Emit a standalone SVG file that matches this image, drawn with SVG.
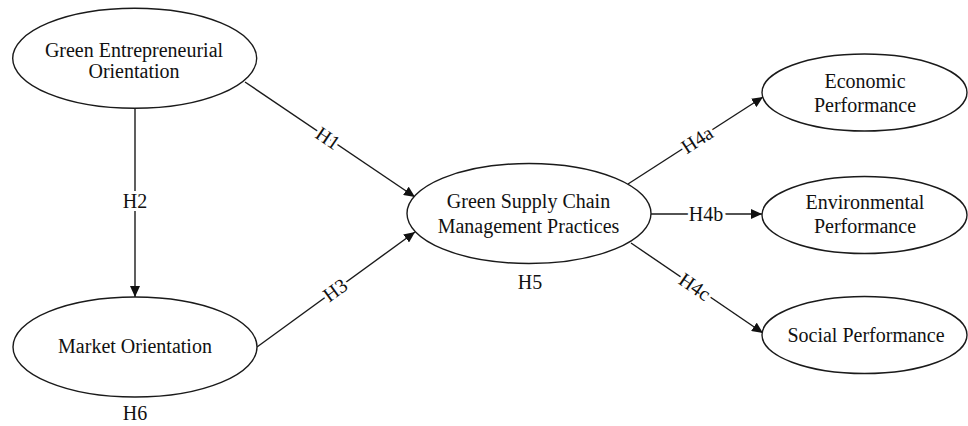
<svg xmlns="http://www.w3.org/2000/svg" width="968" height="426" viewBox="0 0 968 426">
<style>
.node ellipse{fill:#fff;stroke:#1a1a1a;stroke-width:1.4}
text{font-family:"Liberation Serif","Times New Roman",serif;font-size:20px;fill:#111;text-anchor:middle}
.conn line{stroke:#1a1a1a;stroke-width:1.4;marker-end:url(#arr)}
.lbl{paint-order:stroke;stroke:#fff;stroke-width:6px;stroke-linejoin:round;dominant-baseline:central}
</style>
<defs>
<marker id="arr" markerUnits="userSpaceOnUse" markerWidth="12" markerHeight="10" refX="11" refY="5" orient="auto">
<path d="M0,0 L11,5 L0,10 z" fill="#111"/>
</marker>
</defs>
<rect width="968" height="426" fill="#fff"/>
<g id="connectors" class="conn">
<line x1="135" y1="108" x2="135" y2="297"/>
<line x1="245" y1="82" x2="415" y2="197"/>
<line x1="257" y1="347" x2="415" y2="232"/>
<line x1="628" y1="184" x2="763" y2="97"/>
<line x1="651" y1="214" x2="762" y2="214"/>
<line x1="631" y1="243" x2="763" y2="333"/>
</g>
<g id="labels">
<text class="lbl" x="135" y="201">H2</text>
<text class="lbl" x="328" y="138" transform="rotate(34.1 328 138)">H1</text>
<text class="lbl" x="335" y="290" transform="rotate(-36 335 290)">H3</text>
<text class="lbl" x="697" y="139.5" transform="rotate(-32.8 697 139.5)">H4a</text>
<text class="lbl" x="706" y="213.5">H4b</text>
<text class="lbl" x="695" y="286.5" transform="rotate(34.3 695 286.5)">H4c</text>
<text x="530" y="289">H5</text>
<text x="135" y="420">H6</text>
</g>
<g id="geo" class="node">
<ellipse cx="134.7" cy="58.3" rx="122" ry="50"/>
<text x="134" y="56.5">Green Entrepreneurial</text>
<text x="134" y="77.5">Orientation</text>
</g>
<g id="mo" class="node">
<ellipse cx="135" cy="347" rx="122" ry="50"/>
<text x="135" y="353">Market Orientation</text>
</g>
<g id="gscm" class="node">
<ellipse cx="529" cy="213.5" rx="122" ry="50"/>
<text x="528.5" y="208">Green Supply Chain</text>
<text x="528.5" y="233">Management Practices</text>
</g>
<g id="econ" class="node">
<ellipse cx="864.5" cy="92.5" rx="102.5" ry="38.5"/>
<text x="865" y="87.5">Economic</text>
<text x="865" y="111.5">Performance</text>
</g>
<g id="env" class="node">
<ellipse cx="864.5" cy="215" rx="102.5" ry="38.5"/>
<text x="865" y="209">Environmental</text>
<text x="865" y="233">Performance</text>
</g>
<g id="soc" class="node">
<ellipse cx="864.5" cy="335" rx="102.5" ry="38.5"/>
<text x="866" y="342">Social Performance</text>
</g>
</svg>
